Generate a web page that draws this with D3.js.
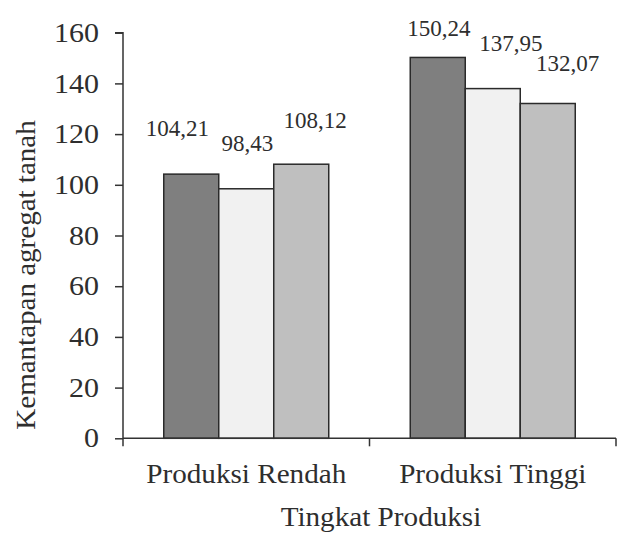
<!DOCTYPE html>
<html>
<head>
<meta charset="utf-8">
<script src="https://cdn.jsdelivr.net/npm/d3@7"></script>
<style>
  html, body { margin: 0; padding: 0; background: #fff; }
  svg { display: block; }
  text { font-family: "Liberation Serif", "Times New Roman", serif; fill: #2e2e2e; }
</style>
</head>
<body>
<svg id="chart" width="617" height="533"></svg>
<script>
// ---- data ----
const categories = ["Produksi Rendah", "Produksi Tinggi"];
const seriesNames = ["S1", "S2", "S3"];
const valuesS1 = [104.21, 150.24];
const valuesS2 = [98.43, 137.95];
const valuesS3 = [108.12, 132.07];
const yTicks = [0, 20, 40, 60, 80, 100, 120, 140, 160];
const yTitle = "Kemantapan agregat tanah";
const xTitle = "Tingkat Produksi";

// ---- layout ----
const colors = ["#7f7f7f", "#f1f1f1", "#bfbfbf"];
// small manual label nudges (dx, dy) per [category][series], as in the original placement
const labelNudge = [
  [[-14, 0], [1, 0], [14, 2]],
  [[1, 17], [18, 0], [20, 5]]
];

const svg = d3.select("#chart");
const pLeft = 123, pRight = 616, pTop = 32.7, pBottom = 438.3;
const serif = "'Liberation Serif', 'Times New Roman', serif";

// widen text slightly (the original's lettering is horizontally stretched)
function stretch(sel, f) {
  sel.each(function () {
    const len = this.getComputedTextLength();
    d3.select(this).attr("textLength", len * f).attr("lengthAdjust", "spacingAndGlyphs");
  });
}

const values = [valuesS1, valuesS2, valuesS3];
const data = categories.map((c, i) => ({
  cat: c,
  vals: seriesNames.map((s, j) => ({ s, j, v: values[j][i], ci: i }))
}));

const x0 = d3.scaleBand().domain(categories).range([pLeft, pRight]).padding(0);
const x1 = d3.scaleBand().domain(seriesNames).range([0, x0.bandwidth()])
  .paddingInner(0).paddingOuter(0.741);
const y = d3.scaleLinear().domain([0, 160]).range([pBottom, pTop]);

// bars
const g = svg.append("g");
const groups = g.selectAll("g.grp").data(data).join("g")
  .attr("transform", d => `translate(${x0(d.cat)},0)`);
groups.selectAll("rect").data(d => d.vals).join("rect")
  .attr("x", d => x1(d.s))
  .attr("y", d => y(d.v))
  .attr("width", x1.bandwidth())
  .attr("height", d => y(0) - y(d.v))
  .attr("fill", d => colors[d.j])
  .attr("stroke", "#2a2a2a")
  .attr("stroke-width", 1.5);

// value labels
const fmt = v => v.toFixed(2).replace(".", ",");
groups.selectAll("text.val").data(d => d.vals).join("text")
  .attr("class", "val")
  .attr("x", d => x1(d.s) + x1.bandwidth() / 2 + labelNudge[d.ci][d.j][0])
  .attr("y", d => y(d.v) - 38 + labelNudge[d.ci][d.j][1])
  .attr("text-anchor", "middle")
  .style("font-family", serif)
  .style("font-size", "23px")
  .text(d => fmt(d.v));

// y axis
const yAxis = d3.axisLeft(y).tickValues(yTicks).tickSize(8).tickPadding(16);
const ya = svg.append("g").attr("transform", `translate(${pLeft},0)`).call(yAxis);
ya.select(".domain").attr("stroke", "#333").attr("stroke-width", 1.5).attr("d", `M-8,${pTop}H0V${pBottom}`);
ya.selectAll(".tick line").attr("stroke", "#333").attr("stroke-width", 1.5);
ya.selectAll(".tick text").style("font-size", "27px").attr("fill", "#2e2e2e")
  .style("font-family", serif);
stretch(ya.selectAll(".tick text"), 1.11);

// x axis
const xAxis = d3.axisBottom(x0).tickSize(0).tickPadding(26);
const xa = svg.append("g").attr("transform", `translate(0,${pBottom})`).call(xAxis);
xa.select(".domain").attr("stroke", "#333").attr("stroke-width", 1.5).attr("d", `M${pLeft},0H${pRight}`);
xa.selectAll(".tick text").style("font-size", "27px").attr("fill", "#2e2e2e")
  .style("font-family", serif).attr("dy", "0.71em");
stretch(xa.selectAll(".tick text"), 1.08);
// category boundary ticks
const boundaries = [pLeft, ...categories.map(c => x0(c) + x0.bandwidth())];
xa.selectAll("line.bound").data(boundaries).join("line")
  .attr("class", "bound")
  .attr("x1", d => d).attr("x2", d => d)
  .attr("y1", 0).attr("y2", 8)
  .attr("stroke", "#333").attr("stroke-width", 1.5);

// axis titles
const yt = svg.append("text")
  .attr("transform", `translate(35,275) rotate(-90)`)
  .attr("text-anchor", "middle")
  .style("font-family", serif)
  .style("font-size", "27px")
  .text(yTitle);
stretch(yt, 1.075);
const xt = svg.append("text")
  .attr("x", 381).attr("y", 526)
  .attr("text-anchor", "middle")
  .style("font-family", serif)
  .style("font-size", "27px")
  .text(xTitle);
stretch(xt, 1.08);
</script>
</body>
</html>
